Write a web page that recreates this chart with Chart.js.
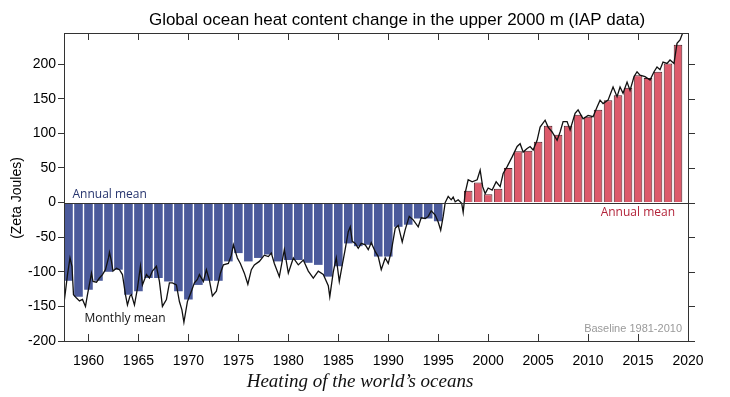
<!DOCTYPE html>
<html>
<head>
<meta charset="utf-8">
<script src="https://cdn.jsdelivr.net/npm/chart.js@4.4.0/dist/chart.umd.min.js"></script>
<style>
  html, body { margin: 0; padding: 0; background: #fff; }
</style>
</head>
<body>
<canvas id="graficoOceano" width="730" height="397"></canvas>
<script>
// anos das barras (media anual)
const anos = [1958, 1959, 1960, 1961, 1962, 1963, 1964, 1965, 1966, 1967,
  1968, 1969, 1970, 1971, 1972, 1973, 1974, 1975, 1976, 1977,
  1978, 1979, 1980, 1981, 1982, 1983, 1984, 1985, 1986, 1987,
  1988, 1989, 1990, 1991, 1992, 1993, 1994, 1995, 1996, 1997,
  1998, 1999, 2000, 2001, 2002, 2003, 2004, 2005, 2006, 2007,
  2008, 2009, 2010, 2011, 2012, 2013, 2014, 2015, 2016, 2017,
  2018, 2019];

const mediaAnual = [-113, -136, -126, -113, -100, -97, -133, -128, -109, -109,
  -114, -128, -140, -119, -113, -113, -85, -73, -85, -80,
  -75, -85, -83, -83, -87, -90, -107, -92, -59, -63,
  -61, -78, -78, -35, -32, -23, -23, -27, -1, -1,
  17, 29, 12, 20, 50, 74, 75, 88, 111, 98,
  111, 127, 124, 134, 148, 155, 166, 184, 180, 189,
  201, 228];

// media mensal (aproximada)
const mesAnos = [1957.55, 1957.7, 1957.9, 1958.15, 1958.35, 1958.5, 1958.8, 1959.1, 1959.4, 1959.7,
  1959.9, 1960.2, 1960.3, 1960.45, 1960.8, 1961.1, 1961.4, 1961.7, 1962.0, 1962.1,
  1962.3, 1962.45, 1962.8, 1963.1, 1963.4, 1963.7, 1963.9, 1964.15, 1964.3, 1964.6,
  1964.9, 1965.2, 1965.4, 1965.8, 1966.1, 1966.4, 1966.8, 1967.1, 1967.4, 1967.8,
  1968.1, 1968.4, 1968.8, 1969.1, 1969.35, 1969.55, 1969.9, 1970.3, 1970.6, 1970.9,
  1971.1, 1971.5, 1971.8, 1972.1, 1972.4, 1972.8, 1973.2, 1973.5, 1974.0, 1974.3,
  1974.5, 1974.9, 1975.2, 1975.6, 1975.95, 1976.3, 1976.6, 1977.1, 1977.6, 1978.0,
  1978.3, 1978.6, 1979.1, 1979.6, 1980.0, 1980.5, 1981.0, 1981.5, 1982.0, 1982.5,
  1983.0, 1983.5, 1984.0, 1984.15, 1984.5, 1984.8, 1985.1, 1985.4, 1985.65, 1986.0,
  1986.2, 1986.4, 1986.7, 1987.0, 1987.3, 1987.7, 1988.0, 1988.3, 1988.7, 1989.0,
  1989.3, 1989.7, 1990.0, 1990.3, 1990.7, 1991.0, 1991.4, 1991.7, 1992.1, 1992.5,
  1993.0, 1993.3, 1993.7, 1994.0, 1994.3, 1994.7, 1995.0, 1995.25, 1995.5, 1995.7,
  1996.0, 1996.3, 1996.5, 1996.7, 1997.0, 1997.35, 1997.5, 1997.7, 1998.0, 1998.4,
  1998.9, 1999.2, 1999.45, 1999.7, 2000.0, 2000.4, 2000.8, 2001.2, 2001.5, 2001.9,
  2002.4, 2002.9, 2003.2, 2003.5, 2003.9, 2004.2, 2004.5, 2004.9, 2005.2, 2005.7,
  2006.0, 2006.4, 2006.9, 2007.2, 2007.5, 2007.9, 2008.2, 2008.7, 2009.0, 2009.5,
  2010.0, 2010.5, 2010.9, 2011.2, 2011.5, 2012.0, 2012.5, 2012.9, 2013.2, 2013.5,
  2013.9, 2014.2, 2014.6, 2014.9, 2015.2, 2015.7, 2016.2, 2016.6, 2016.9, 2017.2,
  2017.5, 2017.9, 2018.2, 2018.6, 2018.9, 2019.2, 2019.6];

const mediaMensal = [-145, -128, -104, -80, -92, -133, -138, -142, -140, -150,
  -133, -110, -102, -114, -115, -109, -104, -97, -80, -72,
  -85, -99, -95, -97, -104, -133, -148, -135, -133, -148,
  -124, -92, -119, -104, -109, -99, -92, -114, -150, -140,
  -116, -116, -119, -143, -155, -173, -143, -128, -116, -111,
  -104, -114, -97, -112, -135, -128, -102, -90, -88, -76,
  -61, -80, -88, -102, -118, -97, -90, -85, -76, -78,
  -73, -88, -107, -68, -102, -80, -90, -83, -99, -109,
  -99, -104, -120, -136, -100, -80, -114, -90, -71, -42,
  -35, -56, -59, -66, -59, -61, -68, -58, -71, -78,
  -97, -80, -88, -71, -37, -33, -57, -39, -20, -25,
  -35, -22, -23, -20, -12, -18, -28, -40, -20, 0,
  9, 4, 8, 1, 4, -1, -14, 14, 33, 30,
  33, 47, 23, 13, 21, 18, 30, 23, 42, 52,
  66, 81, 85, 73, 78, 81, 76, 90, 109, 119,
  109, 102, 90, 102, 117, 117, 105, 129, 134, 121,
  126, 124, 138, 148, 143, 148, 167, 153, 167, 158,
  174, 162, 182, 189, 184, 182, 177, 189, 196, 192,
  203, 201, 206, 201, 230, 235, 250];

const ticksX = [1960, 1965, 1970, 1975, 1980, 1985, 1990, 1995, 2000, 2005, 2010, 2015, 2020];
const ticksY = [-200, -150, -100, -50, 0, 50, 100, 150, 200];

const corPositiva = '#dd5a6b';
const corNegativa = '#4b5a9b';
const corEixo = '#333333';

// moldura, ticks internos e textos
const moldura = {
  id: 'moldura',
  afterDraw(chart) {
    const { ctx, chartArea: a, scales: { x, y } } = chart;
    ctx.save();
    ctx.strokeStyle = corEixo;
    ctx.lineWidth = 1;
    ctx.strokeRect(a.left + 0.5, a.top + 0.5, a.right - a.left, a.bottom - a.top);

    ctx.beginPath();
    const y0 = Math.round(y.getPixelForValue(0)) + 0.5;
    ctx.moveTo(a.left, y0);
    ctx.lineTo(a.right, y0);
    ticksX.forEach(v => {
      const px = Math.round(x.getPixelForValue(v)) + 0.5;
      ctx.moveTo(px, a.top);
      ctx.lineTo(px, a.top + 7);
      ctx.moveTo(px, a.bottom - 7);
      ctx.lineTo(px, a.bottom);
    });
    ticksY.forEach(v => {
      const py = Math.round(y.getPixelForValue(v)) + 0.5;
      ctx.moveTo(a.right, py);
      ctx.lineTo(a.right + 7, py);
    });
    ctx.stroke();

    // titulo
    ctx.fillStyle = '#000';
    ctx.textAlign = 'center';
    ctx.textBaseline = 'alphabetic';
    ctx.font = '17px "Liberation Sans", Arial, sans-serif';
    ctx.fillText('Global ocean heat content change in the upper 2000 m (IAP data)', 397, 25);

    // titulo do eixo y
    ctx.save();
    ctx.translate(17, 198);
    ctx.rotate(-Math.PI / 2);
    ctx.textBaseline = 'middle';
    ctx.font = '14px "Liberation Sans", Arial, sans-serif';
    ctx.fillText('(Zeta Joules)', 0, 0);
    ctx.restore();

    // legenda de baixo
    ctx.font = 'italic 19px "Liberation Serif", "DejaVu Serif", serif';
    ctx.fillStyle = '#111';
    ctx.fillText('Heating of the world\u2019s oceans', 360, 387);

    // anotacoes
    ctx.textBaseline = 'middle';
    ctx.font = '12px "Open Sans", sans-serif';
    ctx.textAlign = 'left';
    ctx.fillStyle = '#26346e';
    ctx.fillText('Annual mean', x.getPixelForValue(1958.4), y.getPixelForValue(12));
    ctx.fillStyle = '#111';
    ctx.fillText('Monthly mean', x.getPixelForValue(1959.6), y.getPixelForValue(-167));
    ctx.textAlign = 'right';
    ctx.fillStyle = '#b3243a';
    ctx.fillText('Annual mean', x.getPixelForValue(2018.7), y.getPixelForValue(-15));
    ctx.font = '11px "Liberation Sans", Arial, sans-serif';
    ctx.fillStyle = '#9a9a9a';
    ctx.fillText('Baseline 1981-2010', x.getPixelForValue(2019.4), y.getPixelForValue(-182));
    ctx.restore();
  }
};

const ctx = document.getElementById('graficoOceano').getContext('2d');
new Chart(ctx, {
  type: 'bar',
  data: {
    datasets: [
      {
        type: 'line',
        label: 'Monthly mean',
        data: mesAnos.map((ano, i) => ({ x: ano, y: mediaMensal[i] })),
        borderColor: '#111111',
        borderWidth: 1.3,
        pointRadius: 0,
        tension: 0,
        order: 0
      },
      {
        type: 'bar',
        label: 'Annual mean',
        data: anos.map((ano, i) => ({ x: ano, y: mediaAnual[i] })),
        backgroundColor: mediaAnual.map(v => v >= 0 ? corPositiva : corNegativa),
        borderColor: mediaAnual.map(v => v >= 0 ? '#4a1c24' : corNegativa),
        borderWidth: mediaAnual.map(v => v >= 0 ? 1 : 0),
        barPercentage: 0.86,
        categoryPercentage: 1,
        order: 1
      }
    ]
  },
  options: {
    responsive: false,
    animation: false,
    layout: { padding: { top: 33, right: 42, left: 0, bottom: 0 } },
    scales: {
      x: {
        type: 'linear',
        min: 1957.55,
        max: 2020,
        offset: false,
        grid: { display: false, offset: false },
        border: { display: false },
        ticks: {
          color: '#000',
          font: { family: '"Liberation Sans", Arial, sans-serif', size: 14 },
          padding: 4,
          maxRotation: 0,
          autoSkip: false,
          callback: v => String(v)
        },
        afterBuildTicks: s => { s.ticks = ticksX.map(v => ({ value: v })); },
        afterFit: s => { s.height = 56; }
      },
      y: {
        min: -200,
        max: 245,
        grid: { display: true, drawOnChartArea: false, drawTicks: true, tickLength: 6, color: corEixo },
        border: { display: false },
        ticks: {
          color: '#000',
          font: { family: '"Liberation Sans", Arial, sans-serif', size: 14 },
          padding: 2
        },
        afterBuildTicks: s => { s.ticks = ticksY.map(v => ({ value: v })); },
        afterFit: s => { s.width = 64; }
      }
    },
    plugins: {
      legend: { display: false },
      tooltip: { enabled: false }
    }
  },
  plugins: [moldura]
});
</script>
</body>
</html>
